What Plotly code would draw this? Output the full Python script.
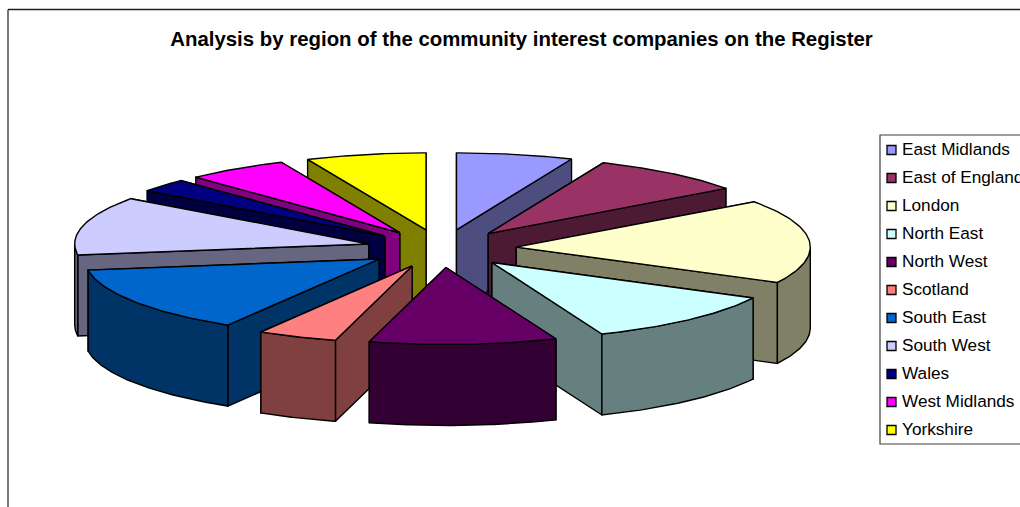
import numpy as np
import plotly.graph_objects as go

TITLE = "Analysis by region of the community interest companies on the Register"
regions = ["East Midlands", "East of England", "London", "North East", "North West", "Scotland",
           "South East", "South West", "Wales", "West Midlands", "Yorkshire"]
shares = [6.4, 8.6, 17.6, 11.3, 10.3, 4.4, 14.1, 12.3, 2.8, 5.6, 6.6]
top_colors = ["#9999FF", "#993366", "#FFFFCC", "#CCFFFF", "#660066", "#FF8080",
              "#0066CC", "#CCCCFF", "#000080", "#FF00FF", "#FFFF00"]
side_colors = ["#4D4D80", "#4D1A33", "#808066", "#668080", "#330033", "#804040",
               "#003366", "#666680", "#000040", "#800080", "#808000"]

W, H = 1020, 507
CX, CY = 441.5, 248.5      # pie centre on the canvas
RX, RY = 294.0, 77.0       # tilted pie radii
EX, EY = 75.0, 19.0        # explosion offsets
DEPTH = 81.0               # thickness of the pie
EDGE = dict(color="#000000", width=1.4)

fig = go.Figure()


def face(xs, ys, color):
    fig.add_trace(go.Scatter(x=list(xs), y=list(ys), mode="lines", fill="toself", fillcolor=color,
                             line=EDGE, hoverinfo="skip", showlegend=False))


total = sum(shares)
bounds = np.concatenate([[0], np.cumsum(shares)]) / total * 2 * np.pi
order = sorted(range(len(shares)), key=lambda i: -np.cos((bounds[i] + bounds[i + 1]) / 2))

for i in order:
    a0, a1 = bounds[i], bounds[i + 1]
    mid = (a0 + a1) / 2
    tx, ty = CX + EX * np.sin(mid), CY - EY * np.cos(mid)
    px = lambda a: tx + RX * np.sin(a)
    py = lambda a: ty - RY * np.cos(a)
    walls = sorted([a0, a1], key=lambda a: -np.cos(a))
    for a in walls:
        face([tx, px(a), px(a), tx, tx],
             [ty, py(a), py(a) + DEPTH, ty + DEPTH, ty], side_colors[i])
    lo, hi = max(a0, np.pi / 2), min(a1, 3 * np.pi / 2)
    if hi > lo:
        arc = np.linspace(lo, hi, 60)
        face(np.r_[px(arc), px(arc)[::-1], px(arc)[0]],
             np.r_[py(arc), py(arc)[::-1] + DEPTH, py(arc)[0]], side_colors[i])
    arc = np.linspace(a0, a1, 60)
    face(np.r_[tx, px(arc), tx], np.r_[ty, py(arc), ty], top_colors[i])

# legend
LEG_L, LEG_T, LEG_B = 880, 135, 444
rows = [150 + 28 * k for k in range(len(regions))]
fig.add_trace(go.Scatter(x=[891.5] * len(regions), y=rows, mode="markers", hoverinfo="skip", showlegend=False,
                         marker=dict(symbol="square", size=9, color=top_colors,
                                     line=dict(color="#000000", width=1.3))))
fig.add_trace(go.Scatter(x=[902] * len(regions), y=[r + 1 for r in rows], mode="text", text=regions,
                         textposition="middle right", hoverinfo="skip", showlegend=False, cliponaxis=True,
                         textfont=dict(family="Liberation Sans, Arial", size=17.2, color="#000000")))

fig.update_layout(
    width=W, height=H, autosize=False, margin=dict(l=0, r=0, t=0, b=0),
    paper_bgcolor="#FFFFFF", plot_bgcolor="#FFFFFF", showlegend=False,
    xaxis=dict(range=[0, W], visible=False, fixedrange=True),
    yaxis=dict(range=[H, 0], visible=False, fixedrange=True),
    title=dict(text="<b>" + TITLE + "</b>", x=521.5 / W, y=1 - 38.5 / H, xanchor="center", yanchor="middle",
               font=dict(family="Liberation Sans, Arial", size=20.4, color="#000000")),
    shapes=[
        dict(type="rect", xref="x", yref="y", x0=LEG_L, x1=W + 10, y0=LEG_T, y1=LEG_B,
             line=dict(color="#404040", width=1.2), layer="below"),
        dict(type="line", xref="x", yref="y", x0=8, x1=W, y0=9.5, y1=9.5, line=dict(color="#202020", width=1.3)),
        dict(type="line", xref="x", yref="y", x0=8, x1=8, y0=9.5, y1=H, line=dict(color="#303030", width=1.3)),
    ],
)
fig.write_html("out.html", config={"displayModeBar": False},
               post_script="document.body.style.margin='0';document.body.style.overflow='hidden';")
